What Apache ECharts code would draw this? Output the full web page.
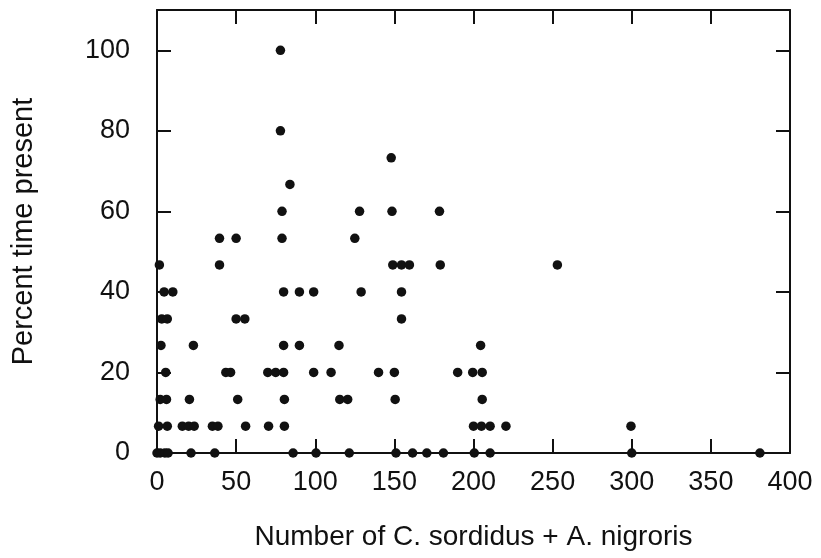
<!DOCTYPE html>
<html>
<head>
<meta charset="utf-8">
<script src="https://cdn.jsdelivr.net/npm/echarts@6/dist/echarts.min.js"></script>
<style>
  html, body { margin: 0; padding: 0; background: #fff; }
  #chart { width: 821px; height: 558px; }
</style>
</head>
<body>
<div id="chart"></div>
<script>
// Fish counts (x) and percent of observation time present (y)
const fishCount = [
  78, 78, 84,
  79, 128, 148.5, 178.5,
  39.5, 50, 79, 125,
  148,
  1.5, 39.5, 149, 154.5, 159.5, 179, 253,
  4.5, 10, 80, 90, 99, 129, 154.5,
  3, 6.5, 50, 55.5, 154.5,
  2.5, 23, 80, 90, 115, 204.5,
  5.5, 43.5, 46.5, 70, 75, 80, 99, 110, 140, 150, 190, 199.5, 205.5,
  2, 6, 20.5, 51, 80.5, 115.5, 120.5, 150.5, 205.5,
  1, 6.5, 16, 20, 23.5, 35, 38.5, 56, 70.5, 80.5, 200, 205, 210.5, 220.5, 299.5,
  0, 2, 5, 7, 21.5, 36.5, 86, 100.5, 121.5, 151, 161.5, 170.5, 181, 200.5, 210.5, 300, 381
];
const percentPresent = [
  100, 80, 66.7,
  60, 60, 60, 60,
  53.3, 53.3, 53.3, 53.3,
  73.3,
  46.7, 46.7, 46.7, 46.7, 46.7, 46.7, 46.7,
  40, 40, 40, 40, 40, 40, 40,
  33.3, 33.3, 33.3, 33.3, 33.3,
  26.7, 26.7, 26.7, 26.7, 26.7, 26.7,
  20, 20, 20, 20, 20, 20, 20, 20, 20, 20, 20, 20, 20,
  13.3, 13.3, 13.3, 13.3, 13.3, 13.3, 13.3, 13.3, 13.3,
  6.67, 6.67, 6.67, 6.67, 6.67, 6.67, 6.67, 6.67, 6.67, 6.67, 6.67, 6.67, 6.67, 6.67, 6.67,
  0, 0, 0, 0, 0, 0, 0, 0, 0, 0, 0, 0, 0, 0, 0, 0, 0
];

const xTitle = 'Number of C. sordidus + A. nigroris';
const yTitle = 'Percent time present';

const points = fishCount.map((x, i) => [x, percentPresent[i]]);

const font = '"Liberation Sans", Arial, Helvetica, sans-serif';
const ink = '#111';
const lineStyle = { color: ink, width: 2 };

const chart = echarts.init(document.getElementById('chart'), null, { renderer: 'canvas' });
chart.setOption({
  animation: false,
  backgroundColor: '#fff',
  grid: { left: 157, right: 31, top: 10, bottom: 105, show: false },
  xAxis: [
    {
      type: 'value', min: 0, max: 400, interval: 50, position: 'bottom',
      name: xTitle, nameLocation: 'middle', nameGap: 70,
      nameTextStyle: { fontFamily: font, fontSize: 28, color: ink },
      axisLine: { show: true, onZero: false, lineStyle },
      axisTick: { show: true, inside: true, length: 14, lineStyle },
      axisLabel: { fontFamily: font, fontSize: 27, color: ink, margin: 16 },
      splitLine: { show: false }
    },
    {
      type: 'value', min: 0, max: 400, interval: 50, position: 'top',
      axisLine: { show: true, onZero: false, lineStyle },
      axisTick: { show: true, inside: true, length: 14, lineStyle },
      axisLabel: { show: false },
      splitLine: { show: false }
    }
  ],
  yAxis: [
    {
      type: 'value', min: 0, max: 110, interval: 20, position: 'left',
      name: yTitle, nameLocation: 'middle', nameGap: 119, nameRotate: 90,
      nameTextStyle: { fontFamily: font, fontSize: 29, color: ink },
      axisLine: { show: true, onZero: false, lineStyle },
      axisTick: { show: true, inside: true, length: 14, lineStyle },
      axisLabel: {
        fontFamily: font, fontSize: 27, color: ink, margin: 27,
        formatter: v => (v % 20 === 0 && v <= 100 ? String(v) : '')
      },
      splitLine: { show: false }
    },
    {
      type: 'value', min: 0, max: 110, interval: 20, position: 'right',
      axisLine: { show: true, onZero: false, lineStyle },
      axisTick: { show: true, inside: true, length: 14, lineStyle },
      axisLabel: { show: false },
      splitLine: { show: false }
    }
  ],
  series: [{
    type: 'scatter',
    data: points,
    symbol: 'circle',
    symbolSize: 9.5,
    itemStyle: { color: ink, opacity: 1 },
    clip: false
  }]
});
</script>
</body>
</html>
